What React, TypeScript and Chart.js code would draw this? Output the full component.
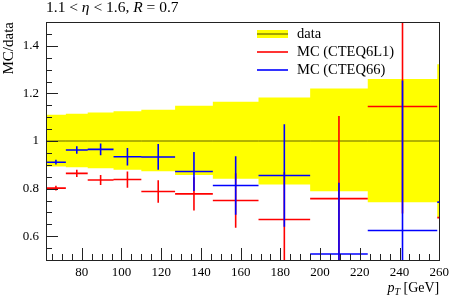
import React, { useEffect, useRef } from 'react';
import { Chart, registerables } from 'chart.js';

Chart.register(...registerables);

// Bin edges in pT [GeV]
const binEdges = [62, 72, 83, 96, 110, 127, 146, 169, 195, 224, 259, 298];
// Data uncertainty band (ratio to data)
const dataLow = [0.893, 0.89, 0.885, 0.879, 0.873, 0.857, 0.841, 0.817, 0.789, 0.743, 0.681];
const dataHigh = [1.11, 1.114, 1.12, 1.125, 1.131, 1.148, 1.165, 1.183, 1.221, 1.26, 1.323];
const dataCentral = [1, 1, 1, 1, 1, 1, 1, 1, 1, 1, 1];
// MC (CTEQ6L1)
const mcCteq6l1 = [0.802, 0.864, 0.836, 0.838, 0.788, 0.778, 0.75, 0.67, 0.758, 1.145, 0.678];
const mcCteq6l1Err = [0.01, 0.015, 0.021, 0.034, 0.047, 0.07, 0.115, 0.2, 0.347, 0.45, 0.1];
// MC (CTEQ66)
const mcCteq66 = [0.911, 0.962, 0.965, 0.934, 0.933, 0.872, 0.813, 0.855, 0.525, 0.624, 0.743];
const mcCteq66Err = [0.01, 0.016, 0.025, 0.037, 0.054, 0.082, 0.123, 0.215, 0.3, 0.63, 0.1];

// Axes
const xMin = 62;
const xMax = 260;
const yMin = 0.5;
const yMax = 1.5;
const xMajorTicks = [80, 100, 120, 140, 160, 180, 200, 220, 240, 260];
const yMajorTicks = [0.6, 0.8, 1, 1.2, 1.4];
const xMinorStep = 5;
const yMinorStep = 0.05;

const legendLabels = ['data', 'MC (CTEQ6L1)', 'MC (CTEQ66)'];

const FONT = '"Liberation Serif", "DejaVu Serif", serif';
const YELLOW = '#ffff00';
const OLIVE = '#666600';
const RED = '#ff0000';
const BLUE = '#0000ff';

function stepPoints(vals: number[]) {
  return binEdges.map((e, i) => ({ x: e, y: vals[Math.min(i, vals.length - 1)] }));
}

function errorBarPoints(vals: number[], errs: number[]) {
  const pts: { x: number; y: number | null }[] = [];
  vals.forEach((v, i) => {
    const lo = binEdges[i];
    const hi = binEdges[i + 1];
    const c = (lo + hi) / 2;
    pts.push({ x: lo, y: v }, { x: hi, y: v }, { x: c, y: null });
    pts.push({ x: c, y: v - errs[i] }, { x: c, y: v + errs[i] }, { x: c, y: null });
  });
  return pts;
}

function makeTicks(min: number, max: number, step: number) {
  const out: number[] = [];
  const n = Math.round((max - min) / step);
  for (let i = 0; i <= n; i++) {
    const v = Math.round((min + i * step) * 1000) / 1000;
    if (v >= min - 1e-9 && v <= max + 1e-9) out.push(v);
  }
  return out;
}

const isMajor = (v: number, majors: number[]) => majors.some((m) => Math.abs(m - v) < 1e-6);

const decorPlugin = {
  id: 'decor',
  afterDatasetsDraw(chart: any) {
    const { ctx, chartArea } = chart;
    const { left, right, top, bottom } = chartArea;
    const xs = chart.scales.x;
    const ys = chart.scales.y;
    ctx.save();
    ctx.strokeStyle = '#222';
    ctx.lineWidth = 1;
    xs.ticks.forEach((t: any) => {
      const px = Math.round(xs.getPixelForValue(t.value)) + 0.5;
      const len = isMajor(t.value, xMajorTicks) ? 12 : 6;
      ctx.beginPath();
      ctx.moveTo(px, bottom);
      ctx.lineTo(px, bottom - len);
      ctx.stroke();
    });
    ys.ticks.forEach((t: any) => {
      const py = Math.round(ys.getPixelForValue(t.value)) + 0.5;
      const len = isMajor(t.value, yMajorTicks) ? 12 : 6;
      ctx.beginPath();
      ctx.moveTo(left, py);
      ctx.lineTo(left + len, py);
      ctx.stroke();
    });
    ctx.strokeRect(Math.round(left) + 0.5, Math.round(top) + 0.5, Math.round(right - left), Math.round(bottom - top));
    ctx.restore();
  },
  afterDraw(chart: any) {
    const { ctx, chartArea } = chart;
    ctx.save();
    ctx.fillStyle = '#000';
    ctx.textBaseline = 'alphabetic';
    // Title with italic parts
    const titleParts: [string, boolean][] = [
      ['1.1 < ', false],
      ['η', true],
      [' < 1.6, ', false],
      ['R', true],
      [' = 0.7', false],
    ];
    let x = chartArea.left;
    titleParts.forEach(([s, it]) => {
      ctx.font = `${it ? 'italic ' : ''}15.5px ${FONT}`;
      ctx.fillText(s, x, 12);
      x += ctx.measureText(s).width;
    });
    // Y axis label
    ctx.save();
    ctx.translate(13, chartArea.top);
    ctx.rotate(-Math.PI / 2);
    ctx.textAlign = 'right';
    ctx.font = `15px ${FONT}`;
    ctx.fillText('MC/data', 0, 0);
    ctx.restore();
    // X axis label: p_T [GeV], right aligned
    ctx.font = `14px ${FONT}`;
    const unit = ' [GeV]';
    const wUnit = ctx.measureText(unit).width;
    ctx.font = `italic 10px ${FONT}`;
    const wT = ctx.measureText('T').width;
    ctx.font = `italic 14px ${FONT}`;
    const wP = ctx.measureText('p').width;
    const base = 292;
    let xx = chartArea.right - wUnit - wT - wP;
    ctx.fillText('p', xx, base);
    xx += wP;
    ctx.font = `italic 10px ${FONT}`;
    ctx.fillText('T', xx, base + 3);
    xx += wT;
    ctx.font = `14px ${FONT}`;
    ctx.fillText(unit, xx, base);

    // Legend
    const sx0 = 257;
    const sx1 = 288;
    const rows = [34, 52, 70];
    ctx.fillStyle = YELLOW;
    ctx.fillRect(sx0, rows[0] - 4, sx1 - sx0, 8);
    ctx.strokeStyle = OLIVE;
    ctx.lineWidth = 1.2;
    ctx.beginPath();
    ctx.moveTo(sx0, rows[0]);
    ctx.lineTo(sx1, rows[0]);
    ctx.stroke();
    ctx.lineWidth = 1.6;
    ctx.strokeStyle = RED;
    ctx.beginPath();
    ctx.moveTo(sx0, rows[1]);
    ctx.lineTo(sx1, rows[1]);
    ctx.stroke();
    ctx.strokeStyle = BLUE;
    ctx.beginPath();
    ctx.moveTo(sx0, rows[2]);
    ctx.lineTo(sx1, rows[2]);
    ctx.stroke();
    ctx.fillStyle = '#000';
    ctx.font = `14.5px ${FONT}`;
    ctx.textBaseline = 'middle';
    legendLabels.forEach((l, i) => ctx.fillText(l, 297, rows[i]));
    ctx.restore();
  },
};

export default function App() {
  const ref = useRef<HTMLCanvasElement>(null);
  useEffect(() => {
    document.body.style.margin = '0';
    const canvas = ref.current;
    if (!canvas) return;
    const errCommon = {
      type: 'line' as const,
      pointRadius: 0,
      pointHoverRadius: 0,
      borderWidth: 1.6,
      borderCapStyle: 'butt' as const,
      spanGaps: false,
      fill: false,
      tension: 0,
      clip: 0,
    };
    const chart = new Chart(canvas, {
      type: 'line',
      data: {
        datasets: [
          {
            label: 'band-high',
            data: stepPoints(dataHigh),
            stepped: 'before',
            borderWidth: 0,
            borderColor: 'rgba(0,0,0,0)',
            backgroundColor: YELLOW,
            pointRadius: 0,
            fill: '+1',
            order: 10,
            clip: 0,
          } as any,
          {
            label: 'band-low',
            data: stepPoints(dataLow),
            stepped: 'before',
            borderWidth: 0,
            borderColor: 'rgba(0,0,0,0)',
            pointRadius: 0,
            fill: false,
            order: 11,
            clip: 0,
          } as any,
          {
            label: 'data',
            data: stepPoints(dataCentral),
            stepped: 'before',
            borderWidth: 1,
            borderColor: OLIVE,
            pointRadius: 0,
            fill: false,
            order: 9,
            clip: 0,
          } as any,
          {
            ...errCommon,
            label: 'MC (CTEQ6L1)',
            data: errorBarPoints(mcCteq6l1, mcCteq6l1Err),
            borderColor: RED,
            order: 2,
          } as any,
          {
            ...errCommon,
            label: 'MC (CTEQ66)',
            data: errorBarPoints(mcCteq66, mcCteq66Err),
            borderColor: BLUE,
            order: 1,
          } as any,
        ],
      },
      options: {
        animation: false,
        responsive: false,
        maintainAspectRatio: false,
        devicePixelRatio: 1,
        events: [],
        layout: { padding: { left: 0, top: 22, right: 11, bottom: 0 } },
        plugins: {
          legend: { display: false },
          tooltip: { enabled: false },
          title: { display: false },
        },
        scales: {
          x: {
            type: 'linear',
            min: xMin,
            max: xMax,
            grid: { display: false, drawTicks: false },
            border: { display: false },
            afterBuildTicks: (scale: any) => {
              scale.ticks = makeTicks(65, xMax, xMinorStep).map((v) => ({ value: v }));
            },
            afterFit: (scale: any) => {
              scale.height = 36;
            },
            ticks: {
              autoSkip: false,
              maxRotation: 0,
              padding: 5,
              color: '#000',
              font: { family: FONT, size: 13 },
              callback: (v: any) => (isMajor(Number(v), xMajorTicks) ? String(v) : ''),
            },
          },
          y: {
            type: 'linear',
            min: yMin,
            max: yMax,
            grid: { display: false, drawTicks: false },
            border: { display: false },
            afterBuildTicks: (scale: any) => {
              scale.ticks = makeTicks(yMin, yMax, yMinorStep).map((v) => ({ value: v }));
            },
            afterFit: (scale: any) => {
              scale.width = 46;
            },
            ticks: {
              autoSkip: false,
              padding: 7,
              color: '#000',
              font: { family: FONT, size: 13 },
              callback: (v: any) => {
                const n = Number(v);
                return isMajor(n, yMajorTicks) ? String(Math.round(n * 10) / 10) : '';
              },
            },
          },
        },
      },
      plugins: [decorPlugin],
    });
    return () => chart.destroy();
  }, []);
  return (
    <div style={{ width: 454, height: 296 }}>
      <canvas ref={ref} width={454} height={296} style={{ display: 'block', width: 454, height: 296 }} />
    </div>
  );
}
